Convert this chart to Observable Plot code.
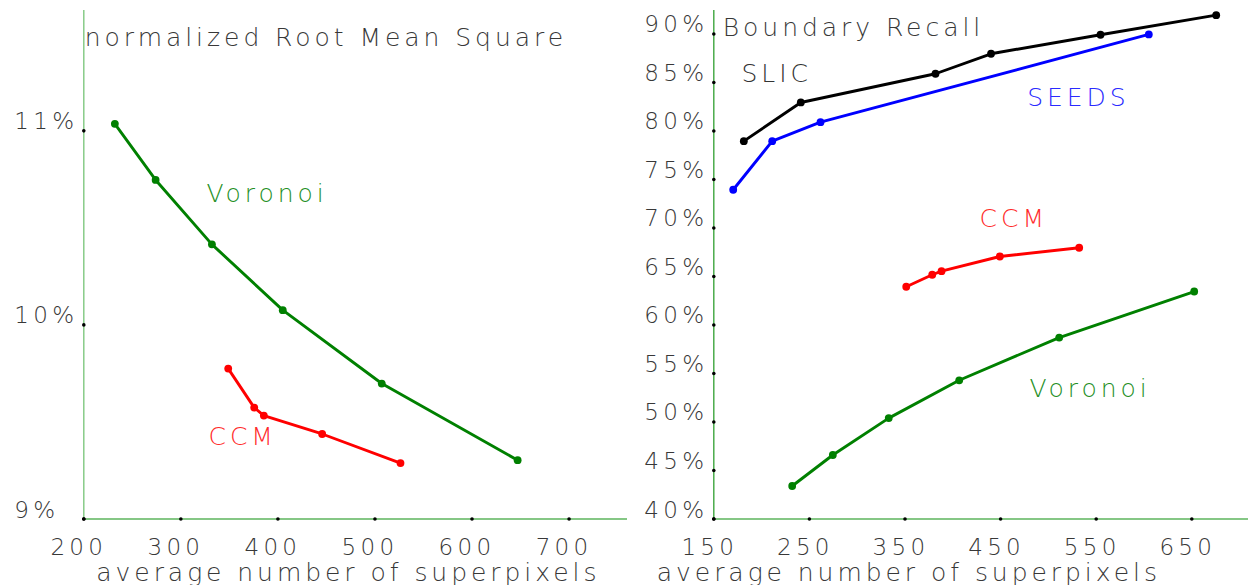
<!DOCTYPE html>
<html>
<head>
<meta charset="utf-8">
<script src="https://cdn.jsdelivr.net/npm/d3@7"></script>
<script src="https://cdn.jsdelivr.net/npm/@observablehq/plot@0.6"></script>
<style>
  html, body { margin: 0; padding: 0; background: #fff; }
  #wrap { display: flex; width: 1248px; height: 585px; overflow: hidden; }
  #wrap svg { flex: 0 0 auto; max-width: none !important; }
  #wrap svg text { font-weight: 200; }
  #wrap svg .big text { letter-spacing: 3.95px; }
  #wrap svg .num text { letter-spacing: 4.3px; }
</style>
</head>
<body>
<div id="wrap"></div>
<script>
// ---------- data ----------
const seriesNames = ["SLIC", "SEEDS", "CCM", "Voronoi"];
const seriesColors = ["#000000", "#0000ff", "#ff0000", "#008000"];
const labelColors = ["#333333", "#2a2aff", "#ff2a2a", "#1f8f1f"];

// left panel: normalized Root Mean Square (%)
const rmsTickX = [200, 300, 400, 500, 600, 700];
const rmsTickY = [9, 10, 11];
const voronoiRmsX = [232, 274, 332, 405, 507, 647];
const voronoiRms = [11.036, 10.747, 10.415, 10.076, 9.698, 9.303];
const ccmRmsX = [348.8, 375.6, 385.5, 445.6, 526.3];
const ccmRms = [9.775, 9.574, 9.533, 9.438, 9.288];

// right panel: Boundary Recall (%)
const brTickX = [150, 250, 350, 450, 550, 650];
const brTickY = [40, 45, 50, 55, 60, 65, 70, 75, 80, 85, 90];
const slicBrX = [181.4, 241, 381.9, 440, 554.5, 675.5];
const slicBr = [78.95, 82.94, 85.9, 87.96, 89.92, 91.94];
const seedsBrX = [170.3, 211.1, 261.6, 605];
const seedsBr = [73.94, 78.95, 80.91, 89.95];
const ccmBrX = [351.3, 378.5, 388.2, 449.2, 532.2];
const ccmBr = [63.94, 65.18, 65.55, 67.06, 67.96];
const voronoiBrX = [232, 274.5, 333, 406.7, 511.3, 652.5];
const voronoiBr = [43.4, 46.6, 50.4, 54.3, 58.7, 63.45];

// in-chart series labels (data coordinates of text start / baseline)
const rmsLabelNames = ["Voronoi", "CCM"];
const rmsLabelX = [326.4, 328.5];
const rmsLabelY = [10.633, 9.379];
const brLabelNames = ["SLIC", "SEEDS", "CCM", "Voronoi"];
const brLabelX = [179, 477.8, 428, 480.2];
const brLabelY = [85.03, 82.53, 70.08, 52.56];

const titleRms = "normalized Root Mean Square";
const titleBr = "Boundary Recall";
const xTitle = "average number of superpixels";

// ---------- helpers ----------
const zip = (name, xs, ys) => xs.map((x, i) => ({series: name, x, y: ys[i]}));
const labelRows = (names, xs, ys) => names.map((n, i) => ({name: n, x: xs[i], y: ys[i]}));

const rmsRows = [...zip("Voronoi", voronoiRmsX, voronoiRms), ...zip("CCM", ccmRmsX, ccmRms)];
const brRows = [
  ...zip("SLIC", slicBrX, slicBr),
  ...zip("SEEDS", seedsBrX, seedsBr),
  ...zip("CCM", ccmBrX, ccmBr),
  ...zip("Voronoi", voronoiBrX, voronoiBr)
];

const FONT = '"DejaVu Sans", "Noto Sans", sans-serif';
const TEXT = "#383838";

function panel({width, marginLeft, xDomain, yDomain, xTicks, yTicks, yFmt, rows, labels,
                title, titleDx, titleDy, xTitleDx, xLabelDx, yAxisColor, xAxisColor}) {
  const labelColor = n => labelColors[seriesNames.indexOf(n)];
  return Plot.plot({
    width, height: 585,
    marginLeft, marginRight: 0, marginTop: 10, marginBottom: 66.5,
    x: {domain: xDomain, axis: null},
    y: {domain: yDomain, axis: null},
    color: {domain: seriesNames, range: seriesColors},
    style: {fontFamily: FONT, fontSize: "24px", color: TEXT, background: "#fff", overflow: "visible"},
    marks: [
      Plot.ruleX([xDomain[0]], {stroke: yAxisColor, strokeWidth: 1.4}),
      Plot.ruleY([yDomain[0]], {stroke: xAxisColor, strokeWidth: 1.4}),
      Plot.dot(xTicks, {x: d => d, y: () => yDomain[0], r: 1.8, fill: "#000"}),
      Plot.dot(yTicks, {x: () => xDomain[0], y: d => d, r: 1.8, fill: "#000"}),
      Plot.text(xTicks, {x: d => d, y: () => yDomain[0], text: d => String(d), className: "num",
        fontSize: 23, fill: TEXT, textAnchor: "middle", lineAnchor: "bottom", dx: xLabelDx, dy: 35.5}),
      Plot.text(yTicks, {x: () => xDomain[0], y: d => d, text: d => yFmt(d), className: "num",
        fontSize: 23, fill: TEXT, textAnchor: "start", lineAnchor: "bottom", dx: -69.5, dy: -1.5}),
      Plot.line(rows, {x: "x", y: "y", z: "series", stroke: "series", strokeWidth: 2.9}),
      Plot.dot(rows, {x: "x", y: "y", fill: "series", r: 3.9}),
      Plot.text(labels, {x: "x", y: "y", text: "name", fill: d => labelColor(d.name), className: "big",
        fontSize: 25, textAnchor: "start", lineAnchor: "bottom"}),
      Plot.text([title], {frameAnchor: "top-left", text: d => d, fontSize: 25, fill: TEXT, className: "big",
        textAnchor: "start", lineAnchor: "bottom", dx: titleDx, dy: titleDy}),
      Plot.text([xTitle], {frameAnchor: "bottom-left", text: d => d, fontSize: 25, fill: TEXT, className: "big",
        textAnchor: "start", lineAnchor: "bottom", dx: xTitleDx, dy: 61.5})
    ]
  });
}

const left = panel({
  width: 627, marginLeft: 83.3,
  xDomain: [200, 760.2], yDomain: [9, 11.62],
  xTicks: rmsTickX, yTicks: rmsTickY, yFmt: d => d + "%",
  rows: rmsRows, labels: labelRows(rmsLabelNames, rmsLabelX, rmsLabelY),
  title: titleRms, titleDx: 1, titleDy: 35, xTitleDx: 12.5, xLabelDx: -5,
  yAxisColor: "#80c880", xAxisColor: "#5db55d"
});

const right = panel({
  width: 621, marginLeft: 86.3,
  xDomain: [150, 709.3], yDomain: [40, 92.42],
  xTicks: brTickX, yTicks: brTickY, yFmt: d => d + "%",
  rows: brRows, labels: labelRows(brLabelNames, brLabelX, brLabelY),
  title: titleBr, titleDx: 9, titleDy: 25, xTitleDx: -57, xLabelDx: -4,
  yAxisColor: "#3fa63f", xAxisColor: "#5db55d"
});

document.getElementById("wrap").append(left, right);
</script>
</body>
</html>
